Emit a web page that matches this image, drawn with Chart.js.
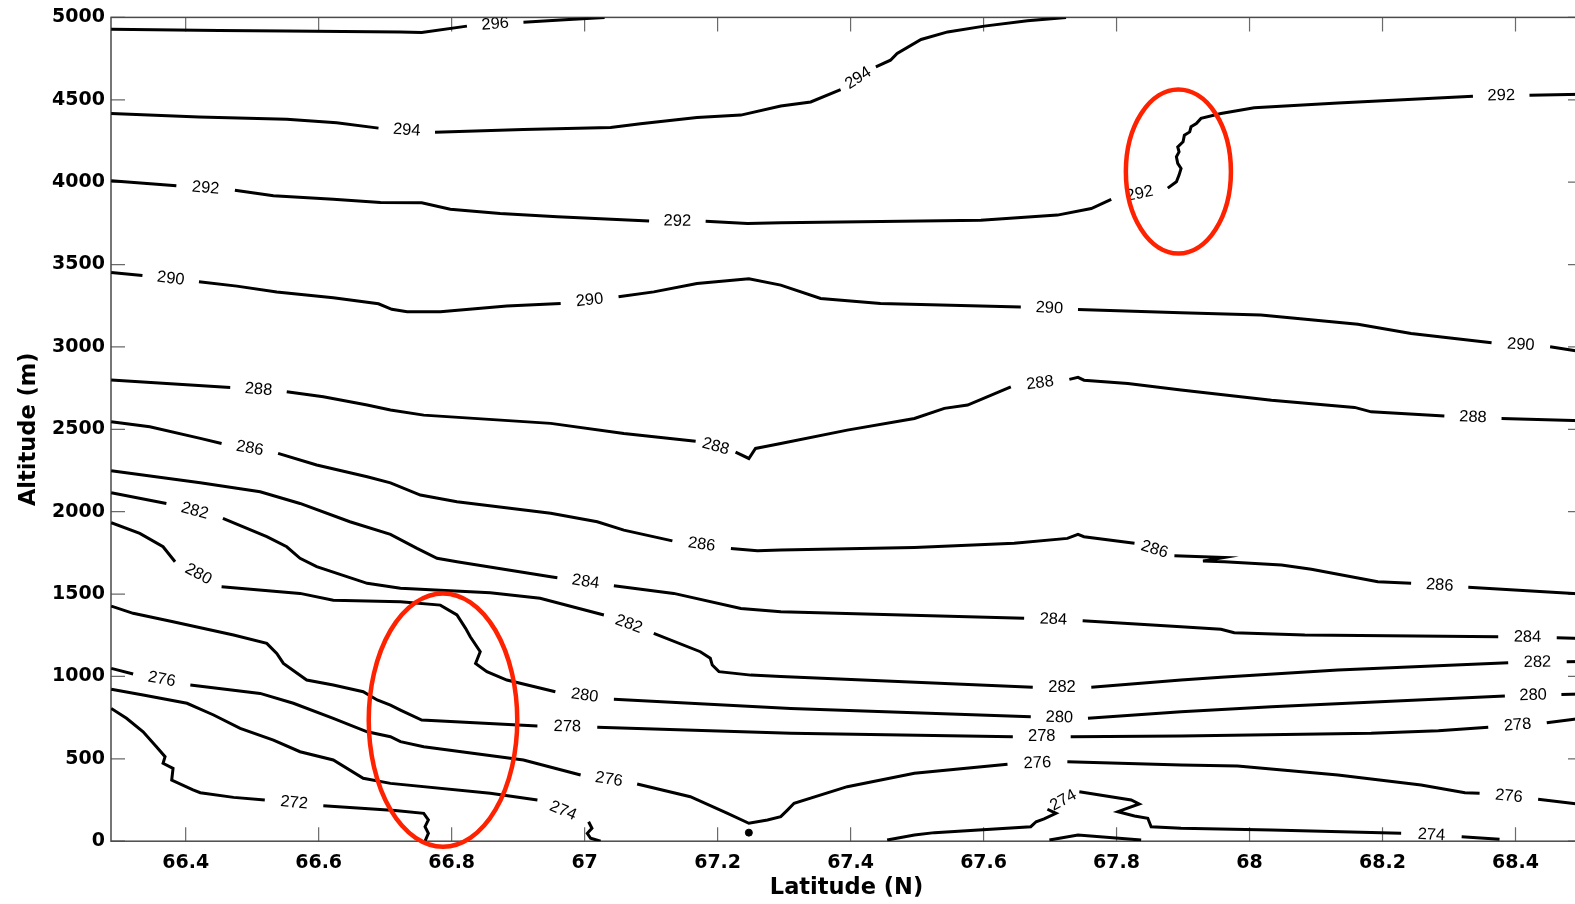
<!DOCTYPE html>
<html>
<head>
<meta charset="utf-8">
<title>Potential temperature section</title>
<script src="https://cdn.jsdelivr.net/npm/chart.js@4"></script>
<style>
  html, body { margin: 0; padding: 0; background: #fff; overflow: hidden; }
  canvas { display: block; }
</style>
</head>
<body>
<canvas id="sectionChart" width="1600" height="904"></canvas>
<script>
// Axis ticks
const latTicks = [66.4, 66.6, 66.8, 67, 67.2, 67.4, 67.6, 67.8, 68, 68.2, 68.4];
const altTicks = [0, 500, 1000, 1500, 2000, 2500, 3000, 3500, 4000, 4500, 5000];

// Contour lines as [latitude, altitude] pairs; null marks the gap where the level label sits
const c296 = [[66.288, 4928], [66.45, 4921], [66.55, 4918], [66.723, 4912], [66.755, 4908], [66.823, 4947], null,
  [66.908, 4971], [66.97, 4985], [67.03, 5000]];

const c294 = [[66.288, 4417], [66.42, 4396], [66.552, 4382], [66.627, 4360], [66.69, 4328], null,
  [66.775, 4303], [66.908, 4320], [67.039, 4332], [67.084, 4355], [67.169, 4393], [67.235, 4407], [67.295, 4462],
  [67.34, 4487], [67.385, 4562], null,
  [67.438, 4700], [67.46, 4740], [67.47, 4781], [67.506, 4866], [67.546, 4912], [67.601, 4947], [67.666, 4979], [67.724, 5000]];

const c292 = [[66.288, 4008], [66.386, 3978], null,
  [66.474, 3951], [66.532, 3917], [66.622, 3897], [66.693, 3877], [66.755, 3875], [66.798, 3836], [66.873, 3810],
  [66.959, 3790], [67.097, 3765], null,
  [67.182, 3762], [67.245, 3749], [67.295, 3753], [67.596, 3769], [67.711, 3800], [67.762, 3840], [67.792, 3895], null,
  [67.877, 3964], [67.890, 4002], [67.894, 4043], [67.897, 4083], [67.892, 4114], [67.890, 4154], [67.894, 4184],
  [67.892, 4214], [67.900, 4245], [67.902, 4285], [67.910, 4305], [67.912, 4336], [67.920, 4356], [67.927, 4387],
  [67.957, 4417], [68.007, 4451], [68.133, 4481], [68.336, 4522], null,
  [68.421, 4528], [68.5, 4533]];

const c290 = [[66.288, 3452], [66.335, 3434], null,
  [66.42, 3395], [66.477, 3369], [66.537, 3333], [66.622, 3298], [66.69, 3262], [66.71, 3228], [66.733, 3213],
  [66.783, 3213], [66.883, 3248], [66.964, 3264], null,
  [67.051, 3304], [67.104, 3334], [67.169, 3385], [67.247, 3413], [67.295, 3375], [67.355, 3294], [67.445, 3264],
  [67.656, 3243], null,
  [67.742, 3227], [67.897, 3207], [68.017, 3193], [68.163, 3138], [68.243, 3082], [68.364, 3025], null,
  [68.452, 3001], [68.5, 2970]];

const c288 = [[66.288, 2799], [66.467, 2754], null,
  [66.552, 2728], [66.607, 2697], [66.673, 2647], [66.708, 2617], [66.758, 2586], [66.949, 2536], [67.059, 2475],
  [67.167, 2428], null,
  [67.227, 2362], [67.247, 2323], [67.257, 2384], [67.270, 2394], [67.295, 2414], [67.395, 2495], [67.496, 2566],
  [67.541, 2627], [67.576, 2647], [67.641, 2758], null,
  [67.729, 2803], [67.742, 2815], [67.751, 2798], [67.817, 2778], [67.897, 2738], [68.033, 2677], [68.158, 2633],
  [68.183, 2606], [68.293, 2580], null,
  [68.379, 2566], [68.5, 2552]];

const c286 = [[66.288, 2546], [66.346, 2515], [66.422, 2445], [66.454, 2414], null,
  [66.539, 2354], [66.597, 2283], [66.673, 2212], [66.708, 2175], [66.753, 2101], [66.808, 2060], [66.949, 1990],
  [67.019, 1939], [67.059, 1888], [67.132, 1823], null,
  [67.220, 1777], [67.260, 1763], [67.295, 1767], [67.496, 1783], [67.646, 1808], [67.726, 1838], [67.742, 1862],
  [67.751, 1848], [67.827, 1808], null,
  [67.887, 1733], [67.962, 1722], [67.93, 1700], [67.962, 1696], [68.048, 1676], [68.093, 1650], [68.193, 1575],
  [68.243, 1565], null,
  [68.329, 1541], [68.5, 1500]];

const c284 = [[66.288, 2248], [66.422, 2175], [66.512, 2121], [66.572, 2050], [66.647, 1939], [66.708, 1862],
  [66.748, 1777], [66.778, 1717], [66.808, 1696], [66.949, 1605], [66.959, 1599], null,
  [67.044, 1550], [67.134, 1504], [67.235, 1413], [67.295, 1393], [67.661, 1353], null,
  [67.749, 1338], [67.897, 1302], [67.957, 1286], [67.977, 1265], [68.083, 1251], [68.374, 1241], null,
  [68.462, 1235], [68.5, 1231]];

const c282 = [[66.288, 2115], [66.371, 2050], null,
  [66.456, 1959], [66.522, 1848], [66.552, 1787], [66.572, 1717], [66.597, 1666], [66.673, 1565], [66.723, 1535],
  [66.858, 1508], [66.933, 1474], [67.029, 1373], null,
  [67.104, 1262], [67.174, 1150], [67.189, 1110], [67.192, 1069], [67.202, 1029], [67.250, 1008], [67.295, 999],
  [67.674, 934], null,
  [67.762, 934], [67.897, 978], [67.957, 995], [68.133, 1039], [68.389, 1083], null,
  [68.477, 1089], [68.5, 1090]];

const c280 = [[66.288, 1933], [66.331, 1868], [66.366, 1787], [66.384, 1696], null,
  [66.454, 1544], [66.572, 1504], [66.622, 1463], [66.723, 1453], [66.783, 1433], [66.808, 1373], [66.821, 1292],
  [66.828, 1241], [66.843, 1150], [66.836, 1079], [66.853, 1029], [66.883, 978], [66.956, 907], null,
  [67.044, 861], [67.310, 806], [67.671, 755], null,
  [67.757, 746], [67.897, 786], [68.033, 816], [68.384, 881], null,
  [68.469, 891], [68.5, 893]];

const c278 = [[66.288, 1427], [66.321, 1383], [66.381, 1332], [66.472, 1251], [66.522, 1201], [66.537, 1140],
  [66.547, 1079], [66.582, 978], [66.622, 948], [66.667, 907], [66.688, 857], [66.708, 826], [66.723, 796],
  [66.755, 735], [66.929, 699], null,
  [67.019, 691], [67.310, 655], [67.644, 634], null,
  [67.731, 634], [67.897, 638], [68.183, 655], [68.284, 671], [68.359, 691], null,
  [68.447, 719], [68.5, 746]];

const c276 = [[66.288, 1049], [66.321, 1015], null,
  [66.407, 948], [66.512, 897], [66.562, 837], [66.622, 746], [66.673, 664], [66.708, 634], [66.723, 604],
  [66.758, 573], [66.908, 493], [66.994, 402], null,
  [67.079, 347], [67.159, 270], [67.215, 169], [67.247, 109], [67.275, 129], [67.295, 149], [67.305, 189],
  [67.315, 230], [67.395, 331], [67.496, 412], [67.636, 467], null,
  [67.726, 482], [67.897, 462], [67.982, 456], [68.133, 402], [68.258, 341], [68.324, 294], [68.346, 291], null,
  [68.434, 254], [68.5, 222]];

const c274West = [[66.288, 922], [66.336, 887], [66.402, 837], [66.442, 766], [66.482, 685], [66.532, 614],
  [66.572, 543], [66.622, 493], [66.667, 382], [66.708, 351], [66.858, 291], [66.929, 250], null,
  [67.006, 118], [67.011, 78], [67.004, 48], [67.009, 18], [67.024, 0]];

const c274East = [[67.455, 7], [67.496, 38], [67.526, 52], [67.671, 88], [67.679, 118], [67.691, 135],
  [67.709, 169], [67.696, 194], null,
  [67.744, 300], [67.822, 250], [67.834, 226], [67.802, 179], [67.827, 153], [67.847, 139], [67.852, 88],
  [67.897, 78], [68.033, 68], [68.228, 48], null,
  [68.319, 27], [68.376, 12]];

const c274Bump = [[67.699, 7], [67.742, 38], [67.837, 7]];

const c272 = [[66.288, 806], [66.311, 746], [66.336, 664], [66.356, 573], [66.369, 513], [66.366, 473],
  [66.381, 442], [66.379, 371], [66.411, 311], [66.422, 294], [66.472, 266], [66.519, 250], null,
  [66.607, 215], [66.715, 187], [66.758, 169], [66.765, 129], [66.760, 88], [66.765, 48], [66.760, 0]];

// Isolated closed contour near the surface
const smallCell = [[67.247, 52]];

// Highlighted regions: centre and half-widths in data units
const markLat = [66.787, 67.893];
const markAlt = [735, 4065];
const markHalfLat = [0.1117, 0.079];
const markHalfAlt = [769, 498];

const contourSets = [
  [296, c296], [294, c294], [292, c292], [290, c290], [288, c288], [286, c286], [284, c284],
  [282, c282], [280, c280], [278, c278], [276, c276], [274, c274West], [274, c274East],
  [0, c274Bump], [272, c272]
];

function toPoints(pairs) {
  return pairs.map(p => p ? { x: p[0], y: p[1] } : { x: NaN, y: NaN });
}

const datasets = contourSets.map(([level, pairs]) => ({
  level: level,
  data: toPoints(pairs),
  borderColor: '#000',
  borderWidth: 3,
  pointRadius: 0,
  spanGaps: false,
  fill: false
}));

datasets.push({
  level: 0,
  data: toPoints(smallCell),
  showLine: false,
  pointRadius: 3.5,
  pointBackgroundColor: '#000',
  pointBorderColor: '#000'
});

// Box and inward ticks on all four sides
const framePlugin = {
  id: 'frame',
  beforeDatasetsDraw(chart) {
    const { ctx, chartArea: a, scales: { x, y } } = chart;
    ctx.save();
    ctx.strokeStyle = '#6a6a6a';
    ctx.lineWidth = 1.2;
    ctx.beginPath();
    latTicks.forEach(v => {
      const px = x.getPixelForValue(v);
      ctx.moveTo(px, a.bottom); ctx.lineTo(px, a.bottom - 14);
      ctx.moveTo(px, a.top); ctx.lineTo(px, a.top + 14);
    });
    altTicks.forEach(v => {
      const py = y.getPixelForValue(v);
      ctx.moveTo(a.left, py); ctx.lineTo(a.left + 14, py);
      ctx.moveTo(a.right, py); ctx.lineTo(a.right - 14, py);
    });
    ctx.stroke();
    ctx.strokeStyle = '#4a4a4a';
    ctx.lineWidth = 1.5;
    ctx.strokeRect(a.left, a.top, a.right - a.left, a.bottom - a.top);
    ctx.restore();
  }
};

// Level labels placed in the gaps of each contour, turned along the line
const contourLabels = {
  id: 'contourLabels',
  afterDatasetsDraw(chart) {
    const ctx = chart.ctx, a = chart.chartArea;
    ctx.save();
    ctx.beginPath();
    ctx.rect(a.left, a.top, a.right - a.left, a.bottom - a.top);
    ctx.clip();
    ctx.font = '16.5px "Liberation Sans", Arial, sans-serif';
    ctx.fillStyle = '#000';
    ctx.textAlign = 'center';
    ctx.textBaseline = 'middle';
    chart.data.datasets.forEach((ds, di) => {
      if (!ds.level) return;
      const pts = chart.getDatasetMeta(di).data;
      ds.data.forEach((d, i) => {
        if (!isNaN(d.y)) return;
        const p = pts[i - 1], q = pts[i + 1];
        if (!p || !q) return;
        let ang = Math.atan2(q.y - p.y, q.x - p.x);
        if (ang > Math.PI / 2) ang -= Math.PI;
        if (ang < -Math.PI / 2) ang += Math.PI;
        ctx.save();
        ctx.translate((p.x + q.x) / 2, (p.y + q.y) / 2);
        ctx.rotate(ang);
        ctx.fillText(String(ds.level), 0, 0);
        ctx.restore();
      });
    });
    ctx.restore();
  }
};

// Red rings around the highlighted regions
const ringPlugin = {
  id: 'rings',
  afterDatasetsDraw(chart) {
    const { ctx, scales: { x, y } } = chart;
    ctx.save();
    ctx.strokeStyle = '#ff2200';
    ctx.lineWidth = 4.5;
    markLat.forEach((lat, i) => {
      const cx = x.getPixelForValue(lat);
      const cy = y.getPixelForValue(markAlt[i]);
      const rx = Math.abs(x.getPixelForValue(lat + markHalfLat[i]) - cx);
      const ry = Math.abs(y.getPixelForValue(markAlt[i] + markHalfAlt[i]) - cy);
      ctx.beginPath();
      ctx.ellipse(cx, cy, rx, ry, 0, 0, Math.PI * 2);
      ctx.stroke();
    });
    ctx.restore();
  }
};

const tickFont = { family: '"DejaVu Sans", sans-serif', size: 19, weight: 'bold' };
const titleFont = { family: '"DejaVu Sans", sans-serif', size: 22.5, weight: 'bold' };

new Chart(document.getElementById('sectionChart').getContext('2d'), {
  type: 'line',
  data: { datasets: datasets },
  plugins: [framePlugin, contourLabels, ringPlugin],
  options: {
    responsive: false,
    animation: false,
    events: [],
    layout: { padding: { top: 17.2, right: 18, left: 0, bottom: 0 } },
    plugins: { legend: { display: false }, tooltip: { enabled: false } },
    scales: {
      x: {
        type: 'linear',
        min: 66.2877,
        max: 68.5,
        grid: { display: false, drawTicks: false },
        border: { display: false },
        afterBuildTicks: s => { s.ticks = latTicks.map(v => ({ value: v })); },
        afterFit: s => { s.height = 62.8; },
        ticks: {
          font: tickFont, color: '#000', padding: 10, maxRotation: 0, autoSkip: false,
          callback: v => String(v)
        },
        title: { display: true, text: 'Latitude (N)', color: '#000', font: titleFont, padding: { top: 0, bottom: 2.5 } }
      },
      y: {
        type: 'linear',
        min: 0,
        max: 5000,
        grid: { display: false, drawTicks: false },
        border: { display: false },
        afterBuildTicks: s => { s.ticks = altTicks.map(v => ({ value: v })); },
        afterFit: s => { s.width = 111; },
        ticks: {
          font: tickFont, color: '#000', padding: 6, autoSkip: false,
          callback: v => String(v)
        },
        title: { display: true, text: 'Altitude (m)', color: '#000', font: titleFont, padding: { top: 16, bottom: 0 } }
      }
    }
  }
});
</script>
</body>
</html>
